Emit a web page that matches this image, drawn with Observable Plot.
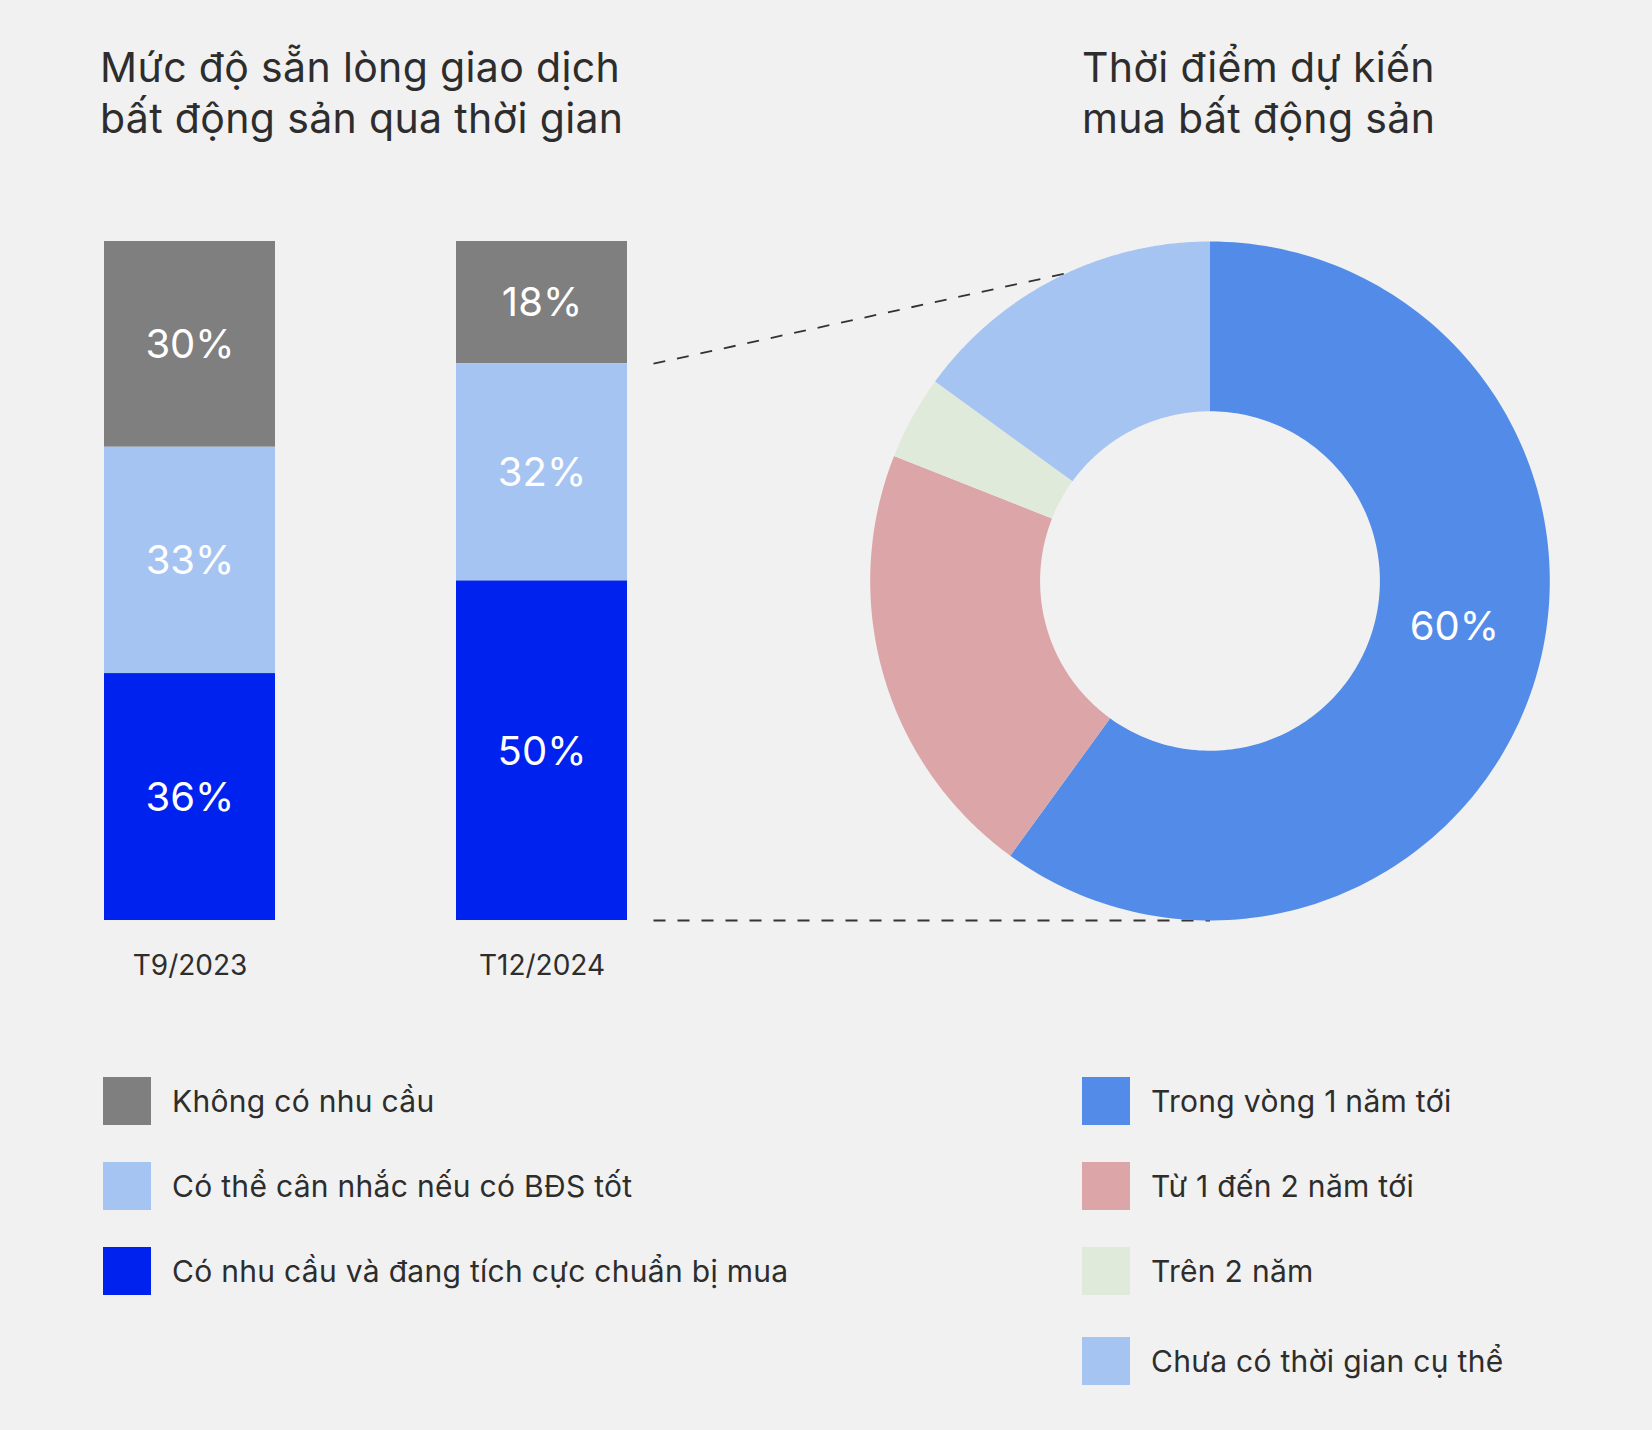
<!DOCTYPE html>
<html>
<head>
<meta charset="utf-8">
<script src="https://cdn.jsdelivr.net/npm/d3@7"></script>
<script src="https://cdn.jsdelivr.net/npm/@observablehq/plot@0.6"></script>
<style>
  html, body { margin: 0; padding: 0; background: #f1f1f1; }
  #page { position: relative; width: 1652px; height: 1430px; background: #f1f1f1; overflow: hidden;
          font-family: Inter, "Noto Sans", sans-serif; color: #2d2d2d; }
  .title { position: absolute; top: 42px; font-size: 41px; line-height: 51px; font-weight: 400; letter-spacing: 0.35px; white-space: nowrap; }
  .layer { position: absolute; left: 0; top: 0; }
  .layer svg { display: block; }
  .item { position: absolute; display: flex; align-items: center; height: 48px; font-size: 30px; letter-spacing: 0.3px; white-space: nowrap; color: #2d2d2d; }
  .sw { width: 48px; height: 48px; margin-right: 21px; flex: none; }
</style>
</head>
<body>
<div id="page">
  <div class="title" style="left:100px">Mức độ sẵn lòng giao dịch<br>bất động sản qua thời gian</div>
  <div class="title" style="left:1082px">Thời điểm dự kiến<br>mua bất động sản</div>
  <div class="layer" id="bars"></div>
  <div class="layer" id="donut"></div>
  <div id="legends"></div>
</div>
<script>
// ---------- DATA ----------
const periods = ["T9/2023", "T12/2024"];
const willingnessSeries = ["Không có nhu cầu", "Có thể cân nhắc nếu có BĐS tốt", "Có nhu cầu và đang tích cực chuẩn bị mua"];
const valuesT9_2023 = [30, 33, 36];
const valuesT12_2024 = [18, 32, 50];

const timingCategories = ["Trong vòng 1 năm tới", "Từ 1 đến 2 năm tới", "Trên 2 năm", "Chưa có thời gian cụ thể"];
const timingValues = [60, 21, 4, 15];
const timingLabelled = ["Trong vòng 1 năm tới"];

// ---------- STYLES ----------
const FONT = "Inter, 'Noto Sans', sans-serif";
const willingnessColors = ["#7f7f7f", "#a6c4f2", "#0022ee"];
const timingColors = ["#528ce8", "#dca6a8", "#e0eada", "#a6c4f2"];

// ---------- TABLES ----------
const periodValues = [valuesT9_2023, valuesT12_2024];
const barData = periods.flatMap((p, i) =>
  willingnessSeries.map((s, j) => ({period: p, series: s, value: periodValues[i][j]})));
const stackOrder = willingnessSeries.slice().reverse(); // bottom → top

const timingData = timingCategories.map((k, i) => ({key: k, value: timingValues[i]}));

// ---------- LAYOUT ----------
const W = 1652, H = 1000, TOP = 241, BOTTOM = 920;

const barPlot = Plot.plot({
  width: W, height: H,
  marginTop: TOP, marginBottom: H - BOTTOM, marginLeft: 0, marginRight: 0,
  style: {background: "transparent", fontFamily: FONT, fontSize: "28px", color: "#2d2d2d"},
  x: {type: "band", domain: periods, range: [103, 627], paddingInner: 0.515, paddingOuter: 0,
      label: null, tickSize: 0, tickPadding: 35},
  y: {domain: [0, 1], axis: null},
  color: {domain: willingnessSeries, range: willingnessColors},
  marks: [
    Plot.barY(barData, Plot.stackY({x: "period", y: "value", z: "series", fill: "series",
      order: stackOrder, offset: "normalize"})),
    Plot.text(barData, Plot.stackY({x: "period", y: "value", z: "series",
      order: stackOrder, offset: "normalize",
      text: d => d.value + "%", fill: "white", fontSize: 40, fontFamily: FONT, dy: 1}))
  ]
});
document.getElementById("bars").appendChild(barPlot);

// donut geometry (unit box: x in [-0.5,0.5], y in [0,1], centre (0,0.5))
const R = 0.5, R0 = 0.25, CY = 0.5;
const donutX = {domain: [-0.5, 0.5], range: [869.7, 1549.3]};
const pie = d3.pie().sort(null).value(d => d.value)(timingData);
const ringPts = pie.flatMap(s => {
  const n = 160, pts = [];
  for (let k = 0; k <= n; k++) {
    const a = s.startAngle + (s.endAngle - s.startAngle) * k / n;
    pts.push({key: s.data.key, x: R * Math.sin(a), y: CY + R * Math.cos(a)});
  }
  for (let k = n; k >= 0; k--) {
    const a = s.startAngle + (s.endAngle - s.startAngle) * k / n;
    pts.push({key: s.data.key, x: R0 * Math.sin(a), y: CY + R0 * Math.cos(a)});
  }
  return pts;
});
const labels = pie.filter(s => timingLabelled.includes(s.data.key)).map(s => {
  const a = (s.startAngle + s.endAngle) / 2, rm = (R + R0) / 2;
  return {x: rm * Math.sin(a), y: CY + rm * Math.cos(a), text: s.data.value + "%"};
});

// connectors from the T12/2024 bar to the donut
const xb = barPlot.scale("x");
const barRight = xb.range[1];
const toUnit = d3.scaleLinear().domain(donutX.domain).range(donutX.range);
const xStart = toUnit.invert(barRight + 26);
const lastTotal = d3.sum(valuesT12_2024);
const interestedShare = (valuesT12_2024[1] + valuesT12_2024[2]) / lastTotal;
const topAngle = -25 * Math.PI / 180, bottomAngle = Math.PI;
const connectors = [
  {x1: xStart, y1: interestedShare, x2: R * Math.sin(topAngle), y2: CY + R * Math.cos(topAngle)},
  {x1: xStart, y1: 0, x2: R * Math.sin(bottomAngle), y2: CY + R * Math.cos(bottomAngle)}
];

const donutPlot = Plot.plot({
  width: W, height: H,
  marginTop: TOP, marginBottom: H - BOTTOM, marginLeft: 0, marginRight: 0,
  style: {background: "transparent", fontFamily: FONT, color: "#2d2d2d"},
  x: {domain: donutX.domain, range: donutX.range, axis: null},
  y: {domain: [0, 1], axis: null},
  color: {domain: timingCategories, range: timingColors},
  marks: [
    Plot.link(connectors, {x1: "x1", y1: "y1", x2: "x2", y2: "y2", stroke: "#333",
      strokeWidth: 1.8, strokeDasharray: "12,12"}),
    Plot.line(ringPts, {x: "x", y: "y", z: "key", fill: "key", stroke: "none"}),
    Plot.text(labels, {x: "x", y: "y", text: "text", fill: "white", fontSize: 40, fontFamily: FONT, dy: -32, dx: 2})
  ]
});
document.getElementById("donut").appendChild(donutPlot);

// ---------- LEGENDS ----------
const legends = document.getElementById("legends");
function addItem(x, y, color, text) {
  const d = document.createElement("div");
  d.className = "item";
  d.style.left = x + "px"; d.style.top = y + "px";
  d.innerHTML = `<div class="sw" style="background:${color}"></div><span>${text}</span>`;
  legends.appendChild(d);
}
const leftTops = [1077, 1162, 1247];
willingnessSeries.forEach((s, i) => addItem(103, leftTops[i], willingnessColors[i], s));
const rightTops = [1077, 1162, 1247, 1337];
timingCategories.forEach((s, i) => addItem(1082, rightTops[i], timingColors[i], s));
</script>
</body>
</html>
